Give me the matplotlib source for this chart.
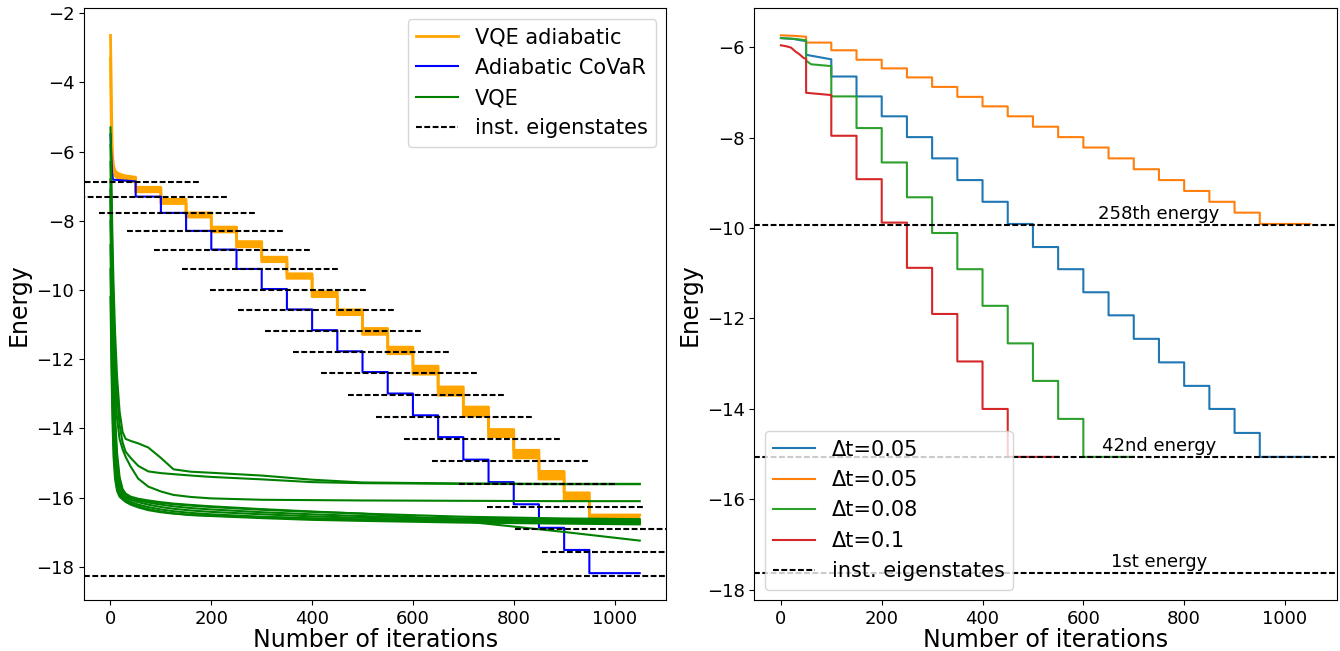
import numpy as np
import matplotlib
matplotlib.use("Agg")
import matplotlib.pyplot as plt

STEP = 50
N_ITER = 1050
DASH = (0, (2.8, 1.2))

# ---------------- left panel data ----------------
# instantaneous eigenstate energies of the interpolated Hamiltonian, one per step
eig_levels = [-6.88, -7.30, -7.78, -8.29, -8.83, -9.39, -9.99, -10.57, -11.17,
              -11.79, -12.40, -13.03, -13.67, -14.30, -14.95, -15.60, -16.26,
              -16.91, -17.58]
ground_energy = -18.25

# adiabatic CoVaR: first step, then one level per step from iteration 50
covar_head_x = [0, 3, 5, 50]
covar_head_y = [-5.5, -6.6, -6.81, -6.86]
covar_levels = [-7.30, -7.77, -8.29, -8.83, -9.39, -9.97, -10.56, -11.16, -11.77,
                -12.37, -12.99, -13.62, -14.25, -14.90, -15.55, -16.19, -16.87,
                -17.51, -18.18]

# VQE adiabatic: spread of the runs (upper / lower envelope)
vqe_ad_head_x = [0, 1, 2, 3, 4, 6, 9, 14, 20, 30, 40, 50]
vqe_ad_head_hi = [-2.64, -3.6, -4.7, -5.6, -6.1, -6.4, -6.55, -6.62, -6.66, -6.70, -6.72, -6.74]
vqe_ad_head_lo = [-3.3, -4.6, -5.6, -6.2, -6.45, -6.62, -6.70, -6.76, -6.80, -6.83, -6.85, -6.87]
vqe_ad_hi = [-7.03, -7.38, -7.77, -8.18, -8.60, -9.05, -9.53, -10.05, -10.57,
             -11.11, -11.65, -12.20, -12.80, -13.38, -14.03, -14.63, -15.24,
             -15.86, -16.50]
vqe_ad_lo = [-7.16, -7.50, -7.89, -8.32, -8.75, -9.18, -9.66, -10.19, -10.71,
             -11.28, -11.84, -12.43, -13.04, -13.64, -14.24, -14.85, -15.46,
             -16.07, -16.72]

# plain VQE runs from random initial parameters
vqe_x = [0, 2, 4, 6, 9, 13, 18, 24, 30, 40, 55, 75, 100, 125, 160, 200, 300, 400,
         500, 700, 900, 1050]
vqe_runs = [
    [-5.3, -7.0, -8.6, -9.8, -11.2, -12.5, -13.5, -14.1, -14.30, -14.36, -14.43, -14.55,
     -14.85, -15.18, -15.25, -15.28, -15.36, -15.48, -15.56, -15.59, -15.60, -15.60],
    [-5.8, -7.6, -9.2, -10.5, -11.8, -13.0, -13.9, -14.4, -14.67, -14.85, -15.08, -15.24,
     -15.29, -15.32, -15.36, -15.40, -15.47, -15.55, -15.58, -15.60, -15.61, -15.61],
    [-6.3, -8.3, -10.0, -11.3, -12.6, -13.7, -14.3, -14.6, -14.82, -15.10, -15.45, -15.68,
     -15.82, -15.92, -15.98, -16.02, -16.06, -16.07, -16.08, -16.09, -16.10, -16.10],
    [-6.8, -9.0, -10.8, -12.2, -13.6, -14.7, -15.4, -15.75, -15.88, -15.97, -16.03, -16.08,
     -16.13, -16.17, -16.21, -16.25, -16.33, -16.40, -16.46, -16.55, -16.60, -16.62],
    [-7.4, -9.6, -11.4, -12.8, -14.1, -15.1, -15.6, -15.85, -15.95, -16.02, -16.08, -16.14,
     -16.20, -16.25, -16.30, -16.34, -16.42, -16.48, -16.53, -16.60, -16.64, -16.66],
    [-8.0, -10.3, -12.0, -13.3, -14.5, -15.35, -15.75, -15.92, -16.00, -16.06, -16.13, -16.20,
     -16.27, -16.32, -16.37, -16.41, -16.48, -16.54, -16.58, -16.64, -16.68, -16.70],
    [-8.7, -11.0, -12.7, -13.9, -14.9, -15.55, -15.85, -15.98, -16.05, -16.12, -16.20, -16.27,
     -16.34, -16.39, -16.44, -16.48, -16.55, -16.60, -16.64, -16.69, -16.72, -16.74],
    [-9.4, -11.7, -13.3, -14.4, -15.2, -15.7, -15.93, -16.03, -16.10, -16.17, -16.25, -16.33,
     -16.40, -16.45, -16.50, -16.53, -16.59, -16.64, -16.67, -16.72, -16.75, -16.77],
    [-7.1, -9.3, -11.1, -12.5, -13.9, -14.9, -15.5, -15.80, -15.92, -16.00, -16.06, -16.10,
     -16.15, -16.19, -16.23, -16.27, -16.35, -16.41, -16.46, -16.68, -16.99, -17.24],
    [-10.2, -12.3, -13.8, -14.8, -15.45, -15.8, -15.97, -16.05, -16.12, -16.20, -16.28, -16.36,
     -16.42, -16.46, -16.50, -16.52, -16.56, -16.60, -16.63, -16.66, -16.68, -16.69],
]

# ---------------- right panel data ----------------
dt_labels = ["Δt=0.05", "Δt=0.05", "Δt=0.08", "Δt=0.1"]
dt_head_x = [
    [0, 25, 50, 50, 100],
    [0, 25, 50],
    [0, 30, 50, 50, 60, 100],
    [0, 10, 20, 28, 37, 45, 50, 50, 100],
]
dt_head_y = [
    [-5.80, -5.82, -5.87, -6.17, -6.27],
    [-5.74, -5.75, -5.77],
    [-5.80, -5.82, -5.85, -6.30, -6.38, -6.42],
    [-5.96, -5.98, -6.01, -6.09, -6.16, -6.24, -6.26, -7.01, -7.06],
]
dt_levels = [
    [-6.65, -7.09, -7.53, -7.99, -8.46, -8.94, -9.42, -9.91, -10.42, -10.91, -11.42,
     -11.93, -12.45, -12.97, -13.49, -14.00, -14.53, -15.06],
    [-5.90, -6.07, -6.28, -6.47, -6.67, -6.88, -7.10, -7.31, -7.53, -7.76, -7.99,
     -8.22, -8.46, -8.70, -8.94, -9.18, -9.42, -9.66, -9.91],
    [-7.09, -7.79, -8.55, -9.32, -10.11, -10.91, -11.72, -12.55, -13.38, -14.22, -15.06],
    [-7.96, -8.92, -9.88, -10.88, -11.90, -12.95, -14.00, -15.06],
]
dt_end = [1050, 1050, 700, 550]

eig_marks = [-9.93, -15.07, -17.63]
eig_names = ["258th energy", "42nd energy", "1st energy"]


def staircase(head_x, head_y, levels, end):
    """Join an explicit first part with flat levels, one per STEP iterations."""
    xs, ys = list(head_x), list(head_y)
    start = head_x[-1]
    for k, level in enumerate(levels):
        x0 = start + k * STEP
        x1 = end if k == len(levels) - 1 else x0 + STEP
        xs += [x0, x1]
        ys += [level, level]
    return np.array(xs), np.array(ys)


fig, (ax1, ax2) = plt.subplots(1, 2, figsize=(13.4, 6.51), dpi=100)
fig.subplots_adjust(left=0.0627, right=0.9975, bottom=0.0783, top=0.987, wspace=0.1515)

# left: VQE adiabatic band
xa, ya_hi = staircase(vqe_ad_head_x, vqe_ad_head_hi, vqe_ad_hi, N_ITER)
_, ya_lo = staircase(vqe_ad_head_x, vqe_ad_head_lo, vqe_ad_lo, N_ITER)
ax1.fill_between(xa, ya_lo, ya_hi, color="orange", lw=0)
ax1.plot(xa, ya_hi, color="orange", lw=2, label="VQE adiabatic")
ax1.plot(xa, ya_lo, color="orange", lw=2)

xc, yc = staircase(covar_head_x, covar_head_y, covar_levels, N_ITER)
ax1.plot(xc, yc, color="blue", lw=1.5, label="Adiabatic CoVaR")

for i, run in enumerate(vqe_runs):
    ax1.plot(vqe_x, run, color="green", lw=1.5, label="VQE" if i == 0 else None)

for k, e in enumerate(eig_levels):
    x0 = -133 + 55 * k
    ax1.plot([x0, x0 + 310], [e, e], color="k", ls=DASH, lw=1.5,
             label="inst. eigenstates" if k == 0 else None)
ax1.axhline(ground_energy, color="k", ls=DASH, lw=1.5)

ax1.set_xlim(-52.5, 1102.5)
ax1.set_xticks([0, 200, 400, 600, 800, 1000])
ax1.set_xlabel("Number of iterations", fontsize=17, labelpad=0)
ax1.set_ylabel("Energy", fontsize=17)
ax1.tick_params(labelsize=13)
ax1.legend(loc="upper right", fontsize=15)

# right: effect of the time step
for i in range(4):
    xs, ys = staircase(dt_head_x[i], dt_head_y[i], dt_levels[i], dt_end[i])
    ax2.plot(xs, ys, color=f"C{i}", lw=1.5, label=dt_labels[i])

for j, (e, name) in enumerate(zip(eig_marks, eig_names)):
    ax2.axhline(e, color="k", ls=DASH, lw=1.5,
                label="inst. eigenstates" if j == 0 else None)
    ax2.text(750, e + 0.05, name, ha="center", va="bottom", fontsize=13)

ax2.set_xticks([0, 200, 400, 600, 800, 1000])
ax2.set_xlabel("Number of iterations", fontsize=17, labelpad=0)
ax2.set_ylabel("Energy", fontsize=17)
ax2.tick_params(labelsize=13)
ax2.legend(loc="lower left", fontsize=15)

fig.savefig("out.png", dpi=100)
